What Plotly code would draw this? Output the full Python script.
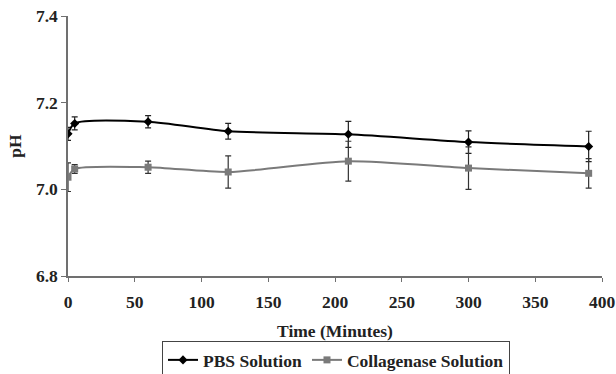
import plotly.graph_objects as go

time_min = [0, 5, 60, 120, 210, 300, 390]
pbs_ph = [7.128, 7.152, 7.156, 7.134, 7.127, 7.109, 7.099]
pbs_err = [0.015, 0.015, 0.014, 0.018, 0.030, 0.026, 0.035]
col_ph = [7.028, 7.047, 7.051, 7.040, 7.065, 7.049, 7.037]
col_err = [0.033, 0.010, 0.014, 0.037, 0.046, 0.049, 0.034]

x_ticks = [0, 50, 100, 150, 200, 250, 300, 350, 400]
y_ticks = [6.8, 7.0, 7.2, 7.4]

FF = "Liberation Serif"
FS = 17.5
bold = dict(family=FF, size=FS, color="#222", weight="bold")

fig = go.Figure()
fig.add_trace(go.Scatter(
    x=time_min, y=pbs_ph, name="PBS Solution", mode="lines+markers",
    line=dict(color="black", width=2, shape="spline", smoothing=0.7),
    marker=dict(symbol="diamond", size=7, color="black"),
    error_y=dict(type="data", array=pbs_err, visible=True, color="#222", thickness=1.2, width=3),
))
fig.add_trace(go.Scatter(
    x=time_min, y=col_ph, name="Collagenase Solution", mode="lines+markers",
    line=dict(color="#7a7a7a", width=2, shape="spline", smoothing=0.7),
    marker=dict(symbol="square", size=7, color="#7a7a7a"),
    error_y=dict(type="data", array=col_err, visible=True, color="#333", thickness=1.2, width=3),
))

fig.update_layout(
    width=616, height=374,
    margin=dict(l=68, r=14, t=16, b=98, autoexpand=False),
    plot_bgcolor="white", paper_bgcolor="white",
    font=bold,
    showlegend=True,
    legend=dict(
        orientation="h", x=336 / 616, xanchor="center", xref="container",
        y=(374 - 341) / 374, yanchor="top", yref="container",
        bordercolor="#444", borderwidth=1, font=bold,
        itemwidth=30, tracegroupgap=0,
    ),
)
fig.update_xaxes(
    range=[0, 400], tickvals=x_ticks, automargin=False, tickfont=bold,
    showline=True, linecolor="#707070", linewidth=1.5,
    ticks="outside", ticklen=4, tickcolor="#707070", ticklabelstandoff=5,
    showgrid=False, zeroline=False,
    title=dict(text="Time (Minutes)", font=bold, standoff=14),
)
fig.update_yaxes(
    range=[6.8, 7.4], tickvals=y_ticks, tickformat=".1f", automargin=False, tickfont=bold,
    showline=True, linecolor="#707070", linewidth=1.5,
    ticks="outside", ticklen=5, tickcolor="#707070",
    showgrid=False, zeroline=False,
    title=dict(text="pH", font=bold, standoff=10),
)

fig.write_html("out.html")
